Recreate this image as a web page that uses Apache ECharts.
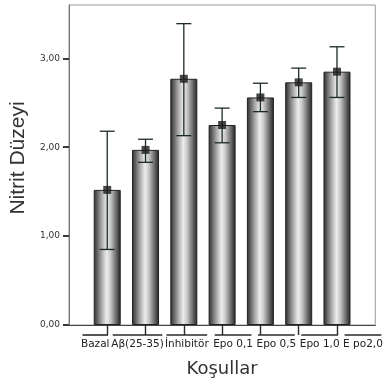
<!DOCTYPE html>
<html>
<head>
<meta charset="utf-8">
<script src="https://cdn.jsdelivr.net/npm/echarts@6/dist/echarts.min.js"></script>
<style>
  html, body { margin: 0; padding: 0; background: #ffffff; }
  #chart { width: 385px; height: 383px; }
</style>
</head>
<body>
<div id="chart"></div>
<script>
// ---- data ----
const categories = ['Bazal', 'A\u03b2(25-35)', '\u0130nhibit\u00f6r', 'Epo 0,1', 'Epo 0,5', 'Epo 1,0', 'E po2,0'];
const means = [1.52, 1.97, 2.77, 2.25, 2.56, 2.73, 2.85];
const lower = [0.85, 1.83, 2.13, 2.05, 2.40, 2.56, 2.56];
const upper = [2.18, 2.09, 3.39, 2.44, 2.72, 2.89, 3.13];
const yTicks = [0, 1, 2, 3];

// ---- styling ----
const labelFontSize = 10.5;
const labelFont = labelFontSize + 'px "DejaVu Sans"';
const labelShift = [-12, -8, 3, 11, 16, 21, 26];

// padded category axis: an empty slot at each end
const axisCats = [''].concat(categories, ['']);
const barData = ['-'].concat(means, ['-']);
const dotData = ['-'].concat(means, ['-']);
const errData = categories.map((c, i) => [i + 1, lower[i], upper[i]]);
const ulData = categories.map((c, i) => [i + 1, 0]);

// measure label widths for underlines
const cv = document.createElement('canvas').getContext('2d');
cv.font = labelFont;
const labelW = categories.map(c => cv.measureText(c).width);
const rich = {};
categories.forEach((c, i) => {
  const s = Math.abs(labelShift[i]) * 2;
  rich['p' + i] = { width: s, lineHeight: 15, fontSize: 1 };
  rich['t' + i] = { fontFamily: 'DejaVu Sans', fontSize: labelFontSize, color: '#222', lineHeight: 15 };
});

const chart = echarts.init(document.getElementById('chart'), null, { renderer: 'canvas' });

const barGradient = new echarts.graphic.LinearGradient(0, 0, 1, 0, [
  { offset: 0, color: '#2a2a2a' },
  { offset: 0.12, color: '#5e5e5e' },
  { offset: 0.3, color: '#ababab' },
  { offset: 0.48, color: '#ededed' },
  { offset: 0.62, color: '#c8c8c8' },
  { offset: 0.85, color: '#626262' },
  { offset: 1, color: '#222222' }
]);

chart.setOption({
  animation: false,
  backgroundColor: '#ffffff',
  grid: { left: 62, right: 4, top: 5, bottom: 58, show: true, borderColor: '#9a9a9a', borderWidth: 1 },
  xAxis: {
    type: 'category',
    data: axisCats,
    boundaryGap: false,
    name: 'Ko\u015fullar',
    nameLocation: 'middle',
    nameGap: 35,
    nameTextStyle: { fontFamily: 'DejaVu Sans', fontSize: 18, color: '#333' },
    axisLine: { show: true, lineStyle: { color: '#444', width: 1.2 } },
    axisTick: { show: true, length: 10, interval: (i) => i > 0 && i < axisCats.length - 1, lineStyle: { color: '#2a2a2a', width: 1.4 } },
    axisLabel: {
      interval: 0,
      margin: 12,
      formatter: (val, idx) => {
        const i = idx - 1;
        if (i < 0 || i >= categories.length) return '';
        if (labelShift[i] >= 0) return '{p' + i + '| }{t' + i + '|' + val + '}';
        return '{t' + i + '|' + val + '}{p' + i + '| }';
      },
      rich: rich
    },
    splitLine: { show: false }
  },
  yAxis: {
    type: 'value',
    min: 0,
    max: 3.6,
    interval: 1,
    name: 'Nitrit D\u00fczeyi',
    nameLocation: 'middle',
    nameGap: 33,
    nameTextStyle: { fontFamily: 'Liberation Sans', fontSize: 21, color: '#333', padding: [0, 0, 0, 14] },
    axisLine: { show: true, lineStyle: { color: '#777', width: 1 } },
    axisTick: { show: true, length: 6, customValues: yTicks, lineStyle: { color: '#222', width: 1.8 } },
    axisLabel: {
      customValues: yTicks,
      margin: 9,
      fontFamily: 'DejaVu Sans',
      fontSize: 9,
      color: '#333',
      formatter: (v) => v.toFixed(2).replace('.', ',')
    },
    splitLine: { show: false }
  },
  series: [
    {
      type: 'bar',
      data: barData,
      barWidth: 27,
      itemStyle: { color: barGradient, borderColor: '#222', borderWidth: 1 },
      z: 2
    },
    {
      type: 'custom',
      data: errData,
      z: 3,
      renderItem: (params, api) => {
        const x = api.value(0);
        const lo = api.coord([x, api.value(1)]);
        const hi = api.coord([x, api.value(2)]);
        const hw = 7.5;
        const st = { stroke: '#1c2a2a', lineWidth: 1.3 };
        return {
          type: 'group',
          children: [
            { type: 'line', shape: { x1: lo[0], y1: lo[1], x2: hi[0], y2: hi[1] }, style: st },
            { type: 'line', shape: { x1: hi[0] - hw, y1: hi[1], x2: hi[0] + hw, y2: hi[1] }, style: st },
            { type: 'line', shape: { x1: lo[0] - hw, y1: lo[1], x2: lo[0] + hw, y2: lo[1] }, style: st }
          ]
        };
      }
    },
    {
      // label underlines (SPSS style) hanging from the category ticks
      type: 'custom',
      data: ulData,
      clip: false,
      silent: true,
      z: 1,
      renderItem: (params, api) => {
        const i = params.dataIndex;
        const p = api.coord([api.value(0), api.value(1)]);
        const cx = p[0] + labelShift[i];
        const y = p[1] + 10;
        const hw = labelW[i] / 2 - 1.5;
        return {
          type: 'line',
          shape: { x1: cx - hw, y1: y, x2: cx + hw, y2: y },
          style: { stroke: '#2a2a2a', lineWidth: 1.6 }
        };
      }
    },
    {
      type: 'scatter',
      data: dotData,
      symbol: 'rect',
      symbolSize: 8,
      itemStyle: { color: '#1a1a1a' },
      z: 4
    }
  ]
});
</script>
</body>
</html>
